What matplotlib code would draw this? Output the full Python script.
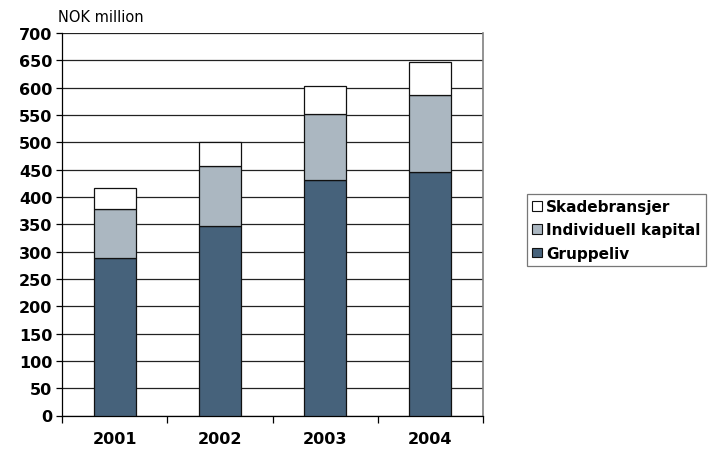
import matplotlib
matplotlib.use("Agg")
import matplotlib.pyplot as plt
import numpy as np
from matplotlib.patches import Patch

years = ["2001", "2002", "2003", "2004"]
gruppeliv = [288, 346, 431, 445]
individuell = [89, 110, 121, 142]
skade = [40, 44, 51, 60]
yticks = list(range(0, 701, 50))

c_grp = "#46627B"
c_ind = "#ABB7C1"
c_skd = "#FFFFFF"

fig = plt.figure(figsize=(7.19, 4.52), dpi=100)
ax = fig.add_axes([62 / 719, (452 - 416.5) / 452, 421 / 719, 382.5 / 452])

x = np.arange(len(years))
w = 0.4
bot2 = np.array(gruppeliv)
bot3 = bot2 + np.array(individuell)
ax.bar(x, gruppeliv, w, color=c_grp, edgecolor="#111111", linewidth=0.9, zorder=3)
ax.bar(x, individuell, w, bottom=bot2, color=c_ind, edgecolor="#111111", linewidth=0.9, zorder=3)
ax.bar(x, skade, w, bottom=bot3, color=c_skd, edgecolor="#111111", linewidth=0.9, zorder=3)

ax.set_xlim(-0.5, 3.5)
ax.set_ylim(0, 700)
ax.set_yticks(yticks)
ax.set_yticklabels([str(v) for v in yticks], fontsize=11.5, fontweight="bold")
ax.yaxis.grid(True, color="#222222", linewidth=0.9, zorder=0)

ax.set_xticks(x)
ax.set_xticklabels(years, fontsize=11.5, fontweight="bold")
ax.tick_params(axis="x", length=0, pad=11)
ax.set_xticks([-0.5, 0.5, 1.5, 2.5, 3.5], minor=True)
ax.tick_params(axis="x", which="minor", length=5, width=0.9, direction="out")
ax.tick_params(axis="y", length=4, width=0.9, direction="out", pad=3)

ax.spines["top"].set_visible(False)
ax.spines["right"].set_color("#808080")
ax.spines["right"].set_linewidth(1.2)
ax.spines["left"].set_linewidth(0.9)
ax.spines["bottom"].set_linewidth(0.9)

fig.text(58 / 719, 1 - 18 / 452, "NOK million", fontsize=10.5, va="center", ha="left")

handles = [Patch(facecolor=c_skd, edgecolor="#111111", linewidth=0.8, label="Skadebransjer"),
           Patch(facecolor=c_ind, edgecolor="#111111", linewidth=0.8, label="Individuell kapital"),
           Patch(facecolor=c_grp, edgecolor="#111111", linewidth=0.8, label="Gruppeliv")]
leg = fig.legend(handles=handles, loc="center left", bbox_to_anchor=(527 / 719, 1 - 231 / 452),
                 fancybox=False, frameon=True, edgecolor="#555555", handlelength=0.6,
                 handleheight=0.6, handletextpad=0.3, labelspacing=0.55, borderpad=0.35,
                 borderaxespad=0, prop={"weight": "bold", "size": 11})
leg.get_frame().set_linewidth(0.9)

fig.savefig("out.png", dpi=100)
